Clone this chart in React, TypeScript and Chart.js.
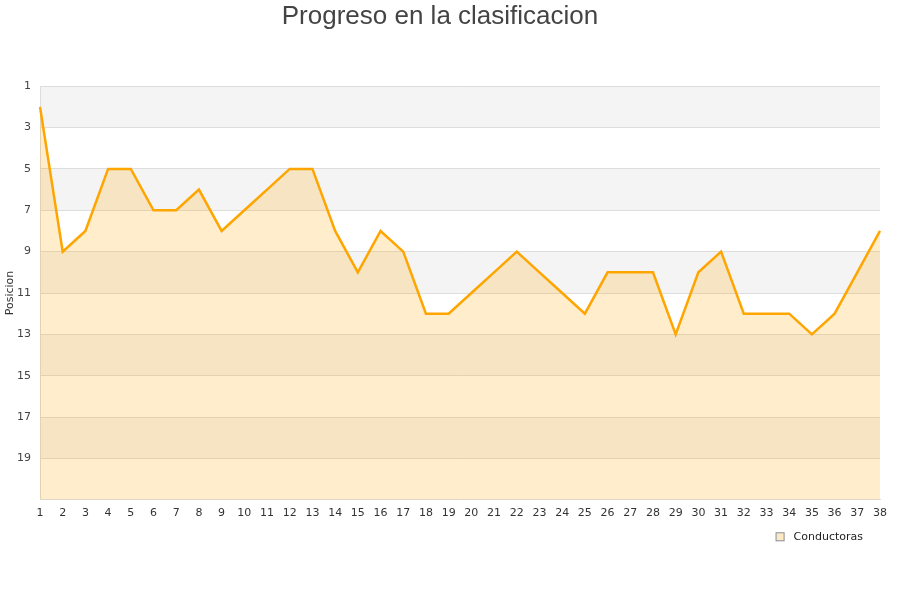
import React, { useEffect, useRef } from "react";
import { Chart, registerables } from "chart.js";

Chart.register(...registerables);

const rounds: string[] = Array.from({ length: 38 }, (_, i) => String(i + 1));
const positions: number[] = [
  2, 9, 8, 5, 5, 7, 7, 6, 8, 7, 6, 5, 5, 8, 10, 8, 9, 12, 12, 11, 10, 9, 10, 11, 12,
  10, 10, 10, 13, 10, 9, 12, 12, 12, 13, 12, 10, 8,
];
const yTicks: number[] = [1, 3, 5, 7, 9, 11, 13, 15, 17, 19];
const seriesName = "Conductoras";
const chartTitle = "Progreso en la clasificacion";
const yTitle = "Posicion";

const bandsPlugin = {
  id: "bands",
  beforeDraw(chart: any) {
    const { ctx, chartArea } = chart;
    const y = chart.scales.y;
    ctx.save();
    ctx.fillStyle = "#f4f4f4";
    for (let v = 1; v < 21; v += 4) {
      const p1 = y.getPixelForValue(v);
      const p2 = y.getPixelForValue(v + 2);
      ctx.fillRect(chartArea.left, p1, chartArea.right - chartArea.left, p2 - p1);
    }
    ctx.restore();
  },
};

const legendPlugin = {
  id: "customLegend",
  afterDraw(chart: any) {
    const { ctx, chartArea } = chart;
    ctx.save();
    ctx.font = "11px 'DejaVu Sans'";
    ctx.textBaseline = "middle";
    ctx.textAlign = "right";
    const textRight = chartArea.right - 17;
    const cy = chartArea.bottom + 37;
    const tw = ctx.measureText(seriesName).width;
    ctx.fillStyle = "#222";
    ctx.fillText(seriesName, textRight, cy);
    const boxLeft = textRight - tw - 17;
    ctx.fillStyle = "#fde9c4";
    ctx.fillRect(boxLeft, cy - 3.5, 7, 7);
    ctx.strokeStyle = "#888";
    ctx.lineWidth = 1;
    ctx.strokeRect(boxLeft - 0.5, cy - 4, 8, 8);
    ctx.restore();
  },
};

export default function App() {
  const ref = useRef<HTMLCanvasElement>(null);
  useEffect(() => {
    if (!ref.current) return;
    const chart = new Chart(ref.current, {
      type: "line",
      data: {
        labels: rounds,
        datasets: [
          {
            label: seriesName,
            data: positions,
            borderColor: "#FFA500",
            backgroundColor: "rgba(255,165,0,0.2)",
            borderWidth: 2.5,
            pointRadius: 0,
            fill: "start",
            tension: 0,
          },
        ],
      },
      options: {
        animation: false,
        responsive: false,
        layout: { padding: { left: 0, right: 20, top: 0, bottom: 73 } },
        plugins: {
          title: {
            display: true,
            text: chartTitle,
            color: "#444",
            font: { family: "Liberation Sans", size: 26, weight: "normal" },
            padding: { top: 1, bottom: 54 },
          },
          legend: { display: false },
          tooltip: { enabled: false },
        },
        scales: {
          x: {
            offset: false,
            grid: { display: false, drawTicks: false },
            border: { color: "#ddd" },
            ticks: {
              color: "#333",
              font: { family: "DejaVu Sans", size: 11 },
              maxRotation: 0,
              autoSkip: false,
              padding: 7,
            },
          },
          y: {
            min: 1,
            max: 21,
            reverse: true,
            afterBuildTicks: (axis: any) => {
              axis.ticks = yTicks.map((v) => ({ value: v }));
            },
            afterFit: (axis: any) => {
              axis.width = 40;
            },
            grid: { color: "#dddddd", drawTicks: false },
            border: { color: "#ddd" },
            title: {
              display: true,
              text: yTitle,
              color: "#333",
              font: { family: "DejaVu Sans", size: 11 },
              padding: { top: 4, bottom: 0 },
            },
            ticks: {
              color: "#444",
              font: { family: "DejaVu Sans", size: 11 },
              padding: 9,
            },
          },
        },
      },
      plugins: [bandsPlugin, legendPlugin],
    });
    return () => chart.destroy();
  }, []);
  return (
    <div style={{ position: "fixed", left: 0, top: 0, width: 900, height: 600, background: "#fff" }}>
      <canvas ref={ref} width={900} height={600} style={{ width: 900, height: 600 }} />
    </div>
  );
}
